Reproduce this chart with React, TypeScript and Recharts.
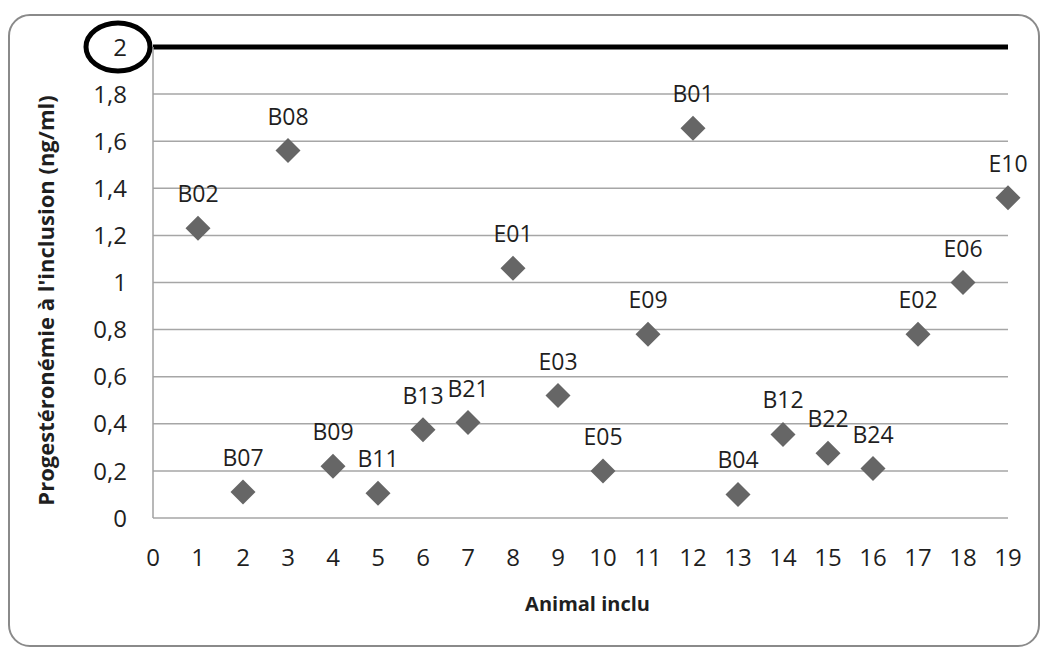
import React from 'react';
import { ScatterChart, Scatter, XAxis, YAxis, CartesianGrid, ReferenceLine } from 'recharts';

const animalIndex = [1, 2, 3, 4, 5, 6, 7, 8, 9, 10, 11, 12, 13, 14, 15, 16, 17, 18, 19];
const animalNames = ['B02', 'B07', 'B08', 'B09', 'B11', 'B13', 'B21', 'E01', 'E03', 'E05', 'E09', 'B01', 'B04', 'B12', 'B22', 'B24', 'E02', 'E06', 'E10'];
const progesterone = [1.23, 0.11, 1.56, 0.22, 0.105, 0.375, 0.405, 1.06, 0.52, 0.2, 0.78, 1.655, 0.1, 0.355, 0.275, 0.21, 0.78, 1.0, 1.36];
const xTicks = [0, 1, 2, 3, 4, 5, 6, 7, 8, 9, 10, 11, 12, 13, 14, 15, 16, 17, 18, 19];
const yTicks = [0, 0.2, 0.4, 0.6, 0.8, 1, 1.2, 1.4, 1.6, 1.8, 2];
const threshold = 2;

const data = animalIndex.map((x, i) => ({ x, y: progesterone[i], name: animalNames[i] }));

const FONT = '"Open Sans", sans-serif';
const fmt = (v: number) => String(Math.round(v * 10) / 10).replace('.', ',');

const Diamond = (props: any) => {
  const { cx, cy, payload } = props;
  const r = 12.5;
  return (
    <g>
      <path d={`M${cx},${cy - r} L${cx + r},${cy} L${cx},${cy + r} L${cx - r},${cy} Z`} fill="#666666" />
      <text x={cx} y={cy - 26} textAnchor="middle" fontFamily={FONT} fontSize={23} fill="#1f1f1f">
        {payload.name}
      </text>
    </g>
  );
};

const YTick = (props: any) => {
  const { x, y, payload } = props;
  return (
    <g>
      <text x={x} y={y} dy="0.36em" textAnchor="end" fontFamily={FONT} fontSize={24} fill="#1f1f1f">
        {fmt(payload.value)}
      </text>
      {payload.value === threshold && (
        <ellipse cx={x - 9} cy={y} rx={32} ry={24} fill="none" stroke="#000" strokeWidth={5} />
      )}
    </g>
  );
};

const XTick = (props: any) => {
  const { x, y, payload } = props;
  return (
    <text x={x} y={y} dy="0.36em" textAnchor="middle" fontFamily={FONT} fontSize={24} fill="#1f1f1f">
      {fmt(payload.value)}
    </text>
  );
};

export default function App() {
  return (
    <div style={{ position: 'absolute', left: 0, top: 0, width: 1044, height: 648, background: '#fff' }}>
      <div
        style={{
          position: 'absolute',
          left: 8,
          top: 14,
          width: 1032,
          height: 633,
          border: '2px solid #8a8a8a',
          borderRadius: 22,
          boxSizing: 'border-box',
        }}
      />
      <div style={{ position: 'absolute', left: 0, top: 0 }}>
        <ScatterChart width={1044} height={648} margin={{ top: 47, right: 36, left: 0, bottom: 0 }}>
          <CartesianGrid horizontal vertical={false} stroke="#a6a6a6" strokeWidth={1.5} />
          <XAxis
            type="number"
            dataKey="x"
            domain={[0, 19]}
            ticks={xTicks}
            interval={0}
            height={130}
            axisLine={false}
            tickLine={false}
            tickSize={0}
            tickMargin={39}
            tick={<XTick />}
            label={{
              content: (p: any) => {
                const vb = p.viewBox;
                return (
                  <text x={vb.x + vb.width / 2 + 7} y={611} textAnchor="middle" fontFamily={FONT} fontWeight="bold" fontSize={20} fill="#1f1f1f">
                    Animal inclu
                  </text>
                );
              },
            }}
          />
          <YAxis
            type="number"
            dataKey="y"
            domain={[0, 2]}
            ticks={yTicks}
            interval={0}
            width={153}
            axisLine={{ stroke: '#a0a0a0', strokeWidth: 1.5 }}
            tickLine={false}
            tickSize={0}
            tickMargin={26}
            tick={<YTick />}
            label={{
              content: (p: any) => {
                const vb = p.viewBox;
                const cy = vb.y + vb.height / 2 + 18;
                return (
                  <text x={46} y={cy} transform={`rotate(-90 46 ${cy})`} dy="0.36em" textAnchor="middle" fontFamily={FONT} fontWeight="bold" fontSize={22} fill="#1f1f1f">
                    Progestéronémie à l'inclusion (ng/ml)
                  </text>
                );
              },
            }}
          />
          <ReferenceLine y={threshold} stroke="#000" strokeWidth={5} />
          <Scatter data={data} shape={<Diamond />} isAnimationActive={false} />
        </ScatterChart>
      </div>
    </div>
  );
}
